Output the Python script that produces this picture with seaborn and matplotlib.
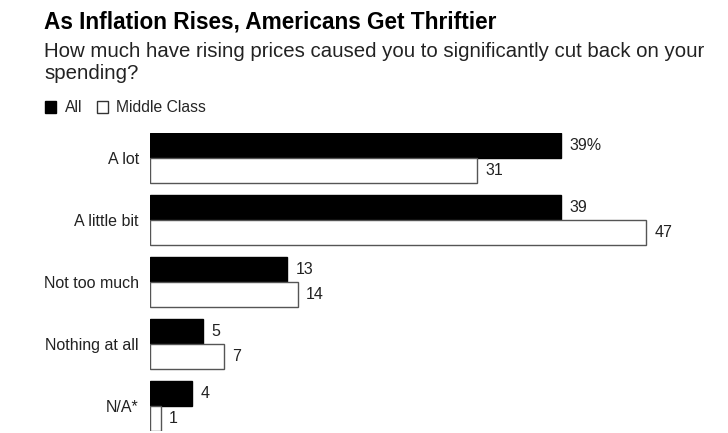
import matplotlib
matplotlib.use("Agg")
import matplotlib.pyplot as plt
import seaborn as sns
import pandas as pd
from matplotlib.patches import Patch

categories = ["A lot", "A little bit", "Not too much", "Nothing at all", "N/A*"]
all_values = [39, 39, 13, 5, 4]
middle_values = [31, 47, 14, 7, 1]
series_names = ["All", "Middle Class"]
value_labels_all = ["39%", "39", "13", "5", "4"]
value_labels_mid = ["31", "47", "14", "7", "1"]

sns.set_theme(style="white")
plt.rcParams["font.family"] = ["Liberation Sans", "DejaVu Sans"]

df = pd.DataFrame({
    "category": categories * 2,
    "value": all_values + middle_values,
    "series": [series_names[0]] * 5 + [series_names[1]] * 5,
})

W, H = 728, 433
fig = plt.figure(figsize=(W / 100, H / 100), dpi=100)
ax_left = 150 / W
scale = 10.55  # px per unit
xmax = 50
ax_w = xmax * scale / W
y_top = 158 - 0.41 * 62
y_bot = 406 + 0.41 * 62
ax = fig.add_axes([ax_left, 1 - y_bot / H, ax_w, (y_bot - y_top) / H])

sns.barplot(data=df, y="category", x="value", hue="series", order=categories,
            hue_order=series_names, palette=["black", "white"], orient="h",
            width=0.8, ax=ax, legend=False, saturation=1)

for c, edge in zip(ax.containers, ["black", "#555555"]):
    for p in c:
        p.set_edgecolor(edge)
        p.set_linewidth(1.0)

labels_sets = [value_labels_all, value_labels_mid]
for c, labs in zip(ax.containers, labels_sets):
    ax.bar_label(c, labels=labs, padding=6, fontsize=11.5, color="#222222")

ax.set_xlim(0, xmax)
ax.set_ylim(4.41, -0.41)
ax.set_xlabel("")
ax.set_ylabel("")
ax.set_xticks([])
ax.tick_params(axis="y", length=0, pad=8, labelsize=11.5, labelcolor="#222222")
for s in ax.spines.values():
    s.set_visible(False)

fig.text(44 / W, 1 - 28 / H, "As Inflation Rises, Americans Get Thriftier",
         fontsize=16.3, fontweight="bold", va="baseline", ha="left", color="black")
fig.text(44 / W, 1 - 57 / H, "How much have rising prices caused you to significantly cut back on your",
         fontsize=14.7, va="baseline", ha="left", color="#222222")
fig.text(44 / W, 1 - 79 / H, "spending?",
         fontsize=14.7, va="baseline", ha="left", color="#222222")

handles = [Patch(facecolor="black", edgecolor="black", label="All"),
           Patch(facecolor="white", edgecolor="#333333", label="Middle Class")]
fig.legend(handles=handles, loc="center left", bbox_to_anchor=(45 / W, 1 - 108 / H),
           ncol=2, frameon=False, fontsize=11.3, handlelength=0.72, handleheight=0.85,
           handletextpad=0.55, columnspacing=0.9, borderaxespad=0, borderpad=0)

fig.savefig("out.png", dpi=100, facecolor="white")
